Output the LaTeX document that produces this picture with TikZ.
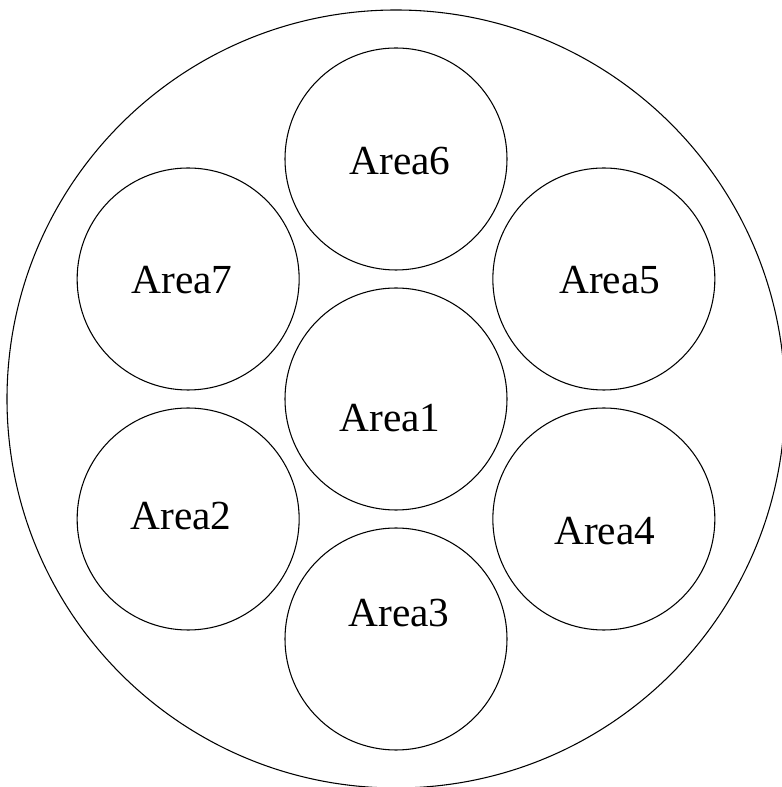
\documentclass[tikz,border=0pt]{standalone}
\usepackage{fontspec}
\setmainfont{Liberation Serif}
\usetikzlibrary{positioning}

\begin{document}
\begin{tikzpicture}[
    x=0.75pt, y=0.75pt,
    ring/.style={draw, line width=0.8pt},
    area/.style={circle, draw, minimum size=166.5pt, inner sep=0pt, line width=0.8pt},
    area_label/.style={font=\fontsize{31}{36}\selectfont, inner sep=0pt}
]

    % --- FRAME ---
    \useasboundingbox (-396,-388) rectangle (385,399);

    % --- OUTER RING ---
    \node[circle, ring, minimum size=583.5pt, inner sep=0pt] (ring) at (0,0) {};

    % --- CENTRE AREA ---
    \node[area] (A1) at (0,0) {};

    % --- OUTER AREAS (hexagon around Area1) ---
    \foreach \i / \ang in {2/210, 3/270, 4/330, 5/30, 6/90, 7/150}
        \node[area] (A\i) at (\ang:240) {};

    % --- LABELS ---
    % small offsets from each circle centre, as in the drawing
    \foreach \i / \dx / \dy in {1/-6/-19, 2/-7/3, 3/3/26, 4/1/-12, 5/6/-1, 6/4/-2, 7/-6/-1}
        \node[area_label, xshift=0.75*\dx pt, yshift=0.75*\dy pt] (T\i) at (A\i) {Area\i};

\end{tikzpicture}
\end{document}
